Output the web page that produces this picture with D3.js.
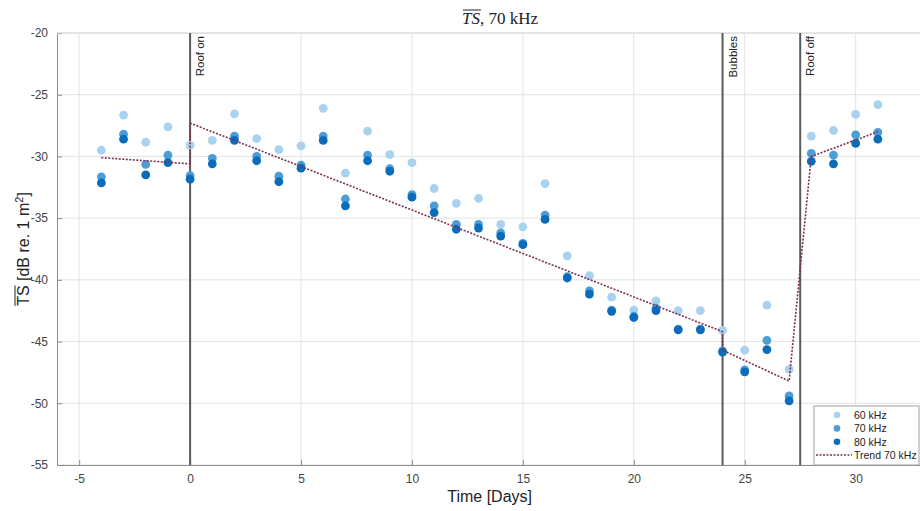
<!DOCTYPE html>
<html>
<head>
<meta charset="utf-8">
<script src="https://cdn.jsdelivr.net/npm/d3@7"></script>
<style>
  body { margin: 0; background: #fff; }
  svg { display: block; font-family: "Liberation Sans", Arial, sans-serif; }
</style>
</head>
<body>
<div id="chart"></div>
<script>
// days of measurement
var days = [-4,-3,-2,-1,0,1,2,3,4,5,6,7,8,9,10,11,12,13,14,15,16,17,18,19,20,21,22,23,24,25,26,27,28,29,30,31];

var ts60 = [-29.5,-26.65,-28.85,-27.6,-29.1,-28.7,-26.55,-28.55,-29.45,-29.15,-26.1,-31.35,-27.95,-29.85,-30.5,-32.6,-33.8,-33.4,-35.5,-35.7,-32.2,-38.05,-39.65,-41.4,-42.45,-41.7,-42.5,-42.5,-44.1,-45.7,-42.05,-47.25,-28.35,-27.9,-26.6,-25.8];
var ts70 = [-31.65,-28.2,-30.65,-29.9,-31.55,-30.15,-28.35,-30.0,-31.6,-30.7,-28.35,-33.45,-29.9,-31.0,-33.1,-34.0,-35.5,-35.5,-36.2,-37.05,-34.75,-39.75,-40.9,-42.45,-42.95,-42.3,-44.0,-44.0,-45.75,-47.3,-44.9,-49.4,-29.75,-29.9,-28.25,-28.05];
var ts80 = [-32.15,-28.6,-31.5,-30.5,-31.85,-30.6,-28.7,-30.35,-32.05,-30.95,-28.7,-34.0,-30.35,-31.2,-33.3,-34.55,-35.9,-35.8,-36.45,-37.15,-35.1,-39.85,-41.15,-42.55,-43.05,-42.5,-44.05,-44.05,-45.85,-47.45,-45.65,-49.8,-30.4,-30.6,-28.95,-28.6];

// piecewise trend of the 70 kHz data
var trendX = [-4, 0, 0, 24, 24, 27, 28, 31];
var trendY = [-30.1, -30.6, -27.3, -44.2, -45.7, -48.2, -30.0, -28.0];

var events = [{day: 0, label: "Roof on"}, {day: 24, label: "Bubbles"}, {day: 27.5, label: "Roof off"}];

var xTicks = [-5, 0, 5, 10, 15, 20, 25, 30];
var yTicks = [-20, -25, -30, -35, -40, -45, -50, -55];

var seriesNames = ["60 kHz", "70 kHz", "80 kHz"];
var seriesColors = ["#a9d2ee", "#4c9dd6", "#0c6cbc"];
var trendColor = "#7d2f55";

var W = 920, H = 511;
var margin = {top: 33, right: 0, bottom: 46, left: 57};
var width = W - margin.left - margin.right,
	height = H - margin.top - margin.bottom;

var svg = d3.select("#chart").append("svg")
	.attr("width", W)
	.attr("height", H);

var x = d3.scaleLinear().domain([-6, 32.9]).range([0, width]);
var y = d3.scaleLinear().domain([-55, -20]).range([height, 0]);

var g = svg.append("g")
	.attr("transform", "translate(" + margin.left + "," + margin.top + ")");

// grid
g.append("g").selectAll("line").data(xTicks).enter().append("line")
	.attr("x1", function(d) { return x(d); }).attr("x2", function(d) { return x(d); })
	.attr("y1", 0).attr("y2", height)
	.attr("stroke", "#e3e3e3").attr("stroke-width", 1);
g.append("g").selectAll("line").data(yTicks).enter().append("line")
	.attr("x1", 0).attr("x2", width)
	.attr("y1", function(d) { return y(d); }).attr("y2", function(d) { return y(d); })
	.attr("stroke", "#e3e3e3").attr("stroke-width", 1);

// axes
var xAxis = g.append("g")
	.attr("transform", "translate(0," + height + ")")
	.call(d3.axisBottom(x).tickValues(xTicks).tickSize(-5).tickPadding(9).tickFormat(d3.format("d")));
var yAxis = g.append("g")
	.call(d3.axisLeft(y).tickValues(yTicks).tickSize(-5).tickPadding(9).tickFormat(d3.format("d")));
[xAxis, yAxis].forEach(function(a) {
	a.select(".domain").attr("stroke", "#8c8c8c");
	a.selectAll(".tick line").attr("stroke", "#8c8c8c");
	a.selectAll(".tick text").attr("fill", "#444").style("font-size", "12px")
		.text(function(d) { return d < 0 ? "-" + Math.abs(d) : d; });
});
g.append("line").attr("x1", 0).attr("x2", width).attr("y1", 0).attr("y2", 0)
	.attr("stroke", "#d8d8d8");

// event lines
var ev = g.append("g").selectAll("g").data(events).enter().append("g");
ev.append("line")
	.attr("x1", function(d) { return x(d.day); }).attr("x2", function(d) { return x(d.day); })
	.attr("y1", 0).attr("y2", height)
	.attr("stroke", "#5a5a5a").attr("stroke-width", 2);
ev.append("text")
	.attr("transform", function(d) { return "translate(" + (x(d.day) + 14) + ",3) rotate(-90)"; })
	.attr("text-anchor", "end")
	.style("font-size", "11.5px")
	.attr("fill", "#222")
	.text(function(d) { return d.label; });

// scatter
[ts60, ts70, ts80].forEach(function(vals, i) {
	g.append("g").selectAll("circle").data(days).enter().append("circle")
		.attr("cx", function(d) { return x(d); })
		.attr("cy", function(d, j) { return y(vals[j]); })
		.attr("r", 4.4)
		.attr("fill", seriesColors[i]);
});

// trend line
var line = d3.line()
	.x(function(d) { return x(d); })
	.y(function(d, j) { return y(trendY[j]); });
g.append("path")
	.datum(trendX)
	.attr("d", line)
	.attr("fill", "none")
	.attr("stroke", trendColor)
	.attr("stroke-width", 1.6)
	.attr("stroke-dasharray", "2,1.5");

// legend
var lg = svg.append("g").attr("transform", "translate(814,406)");
lg.append("rect").attr("width", 105).attr("height", 59)
	.attr("fill", "#fff").attr("stroke", "#a0a0a0");
seriesNames.forEach(function(name, i) {
	lg.append("circle").attr("cx", 23).attr("cy", 9 + i * 13.4).attr("r", 3.3).attr("fill", seriesColors[i]);
	lg.append("text").attr("x", 40).attr("y", 12.8 + i * 13.4).style("font-size", "10.5px").attr("fill", "#222").text(name);
});
lg.append("line").attr("x1", 2).attr("x2", 38).attr("y1", 49).attr("y2", 49)
	.attr("stroke", trendColor).attr("stroke-width", 1.5).attr("stroke-dasharray", "2,1.5");
lg.append("text").attr("x", 40).attr("y", 52.8).style("font-size", "10.5px").attr("fill", "#222").text("Trend 70 kHz");

// title with overline on TS
var title = svg.append("text")
	.attr("x", 500).attr("y", 24)
	.attr("text-anchor", "middle")
	.style("font-family", "'Liberation Serif', 'DejaVu Serif', serif")
	.style("font-size", "17px")
	.attr("fill", "#222");
title.append("tspan").style("font-style", "italic").text("TS");
title.append("tspan").text(", 70 kHz");
var tb = title.node().getBBox();
var tsW = title.node().getSubStringLength(0, 2);
svg.append("line").attr("x1", tb.x + 1).attr("x2", tb.x + tsW + 1)
	.attr("y1", tb.y + 1).attr("y2", tb.y + 1).attr("stroke", "#222").attr("stroke-width", 1);

// axis labels
svg.append("text")
	.attr("x", margin.left + x(13.5)).attr("y", 502)
	.attr("text-anchor", "middle")
	.style("font-size", "16px").attr("fill", "#222")
	.text("Time [Days]");

var yl = svg.append("text")
	.attr("transform", "translate(29," + (margin.top + height / 2) + ") rotate(-90)")
	.attr("text-anchor", "middle")
	.style("font-size", "16px").attr("fill", "#222");
yl.append("tspan").text("TS [dB re. 1 m");
yl.append("tspan").attr("dy", -6).style("font-size", "11px").text("2");
yl.append("tspan").attr("dy", 6).text("]");
var yb = yl.node().getBBox();
var ylW = yl.node().getSubStringLength(0, 2);
svg.append("line")
	.attr("transform", "translate(29," + (margin.top + height / 2) + ") rotate(-90)")
	.attr("x1", yb.x).attr("x2", yb.x + ylW)
	.attr("y1", yb.y + 2).attr("y2", yb.y + 2)
	.attr("stroke", "#222").attr("stroke-width", 1);
</script>
</body>
</html>
